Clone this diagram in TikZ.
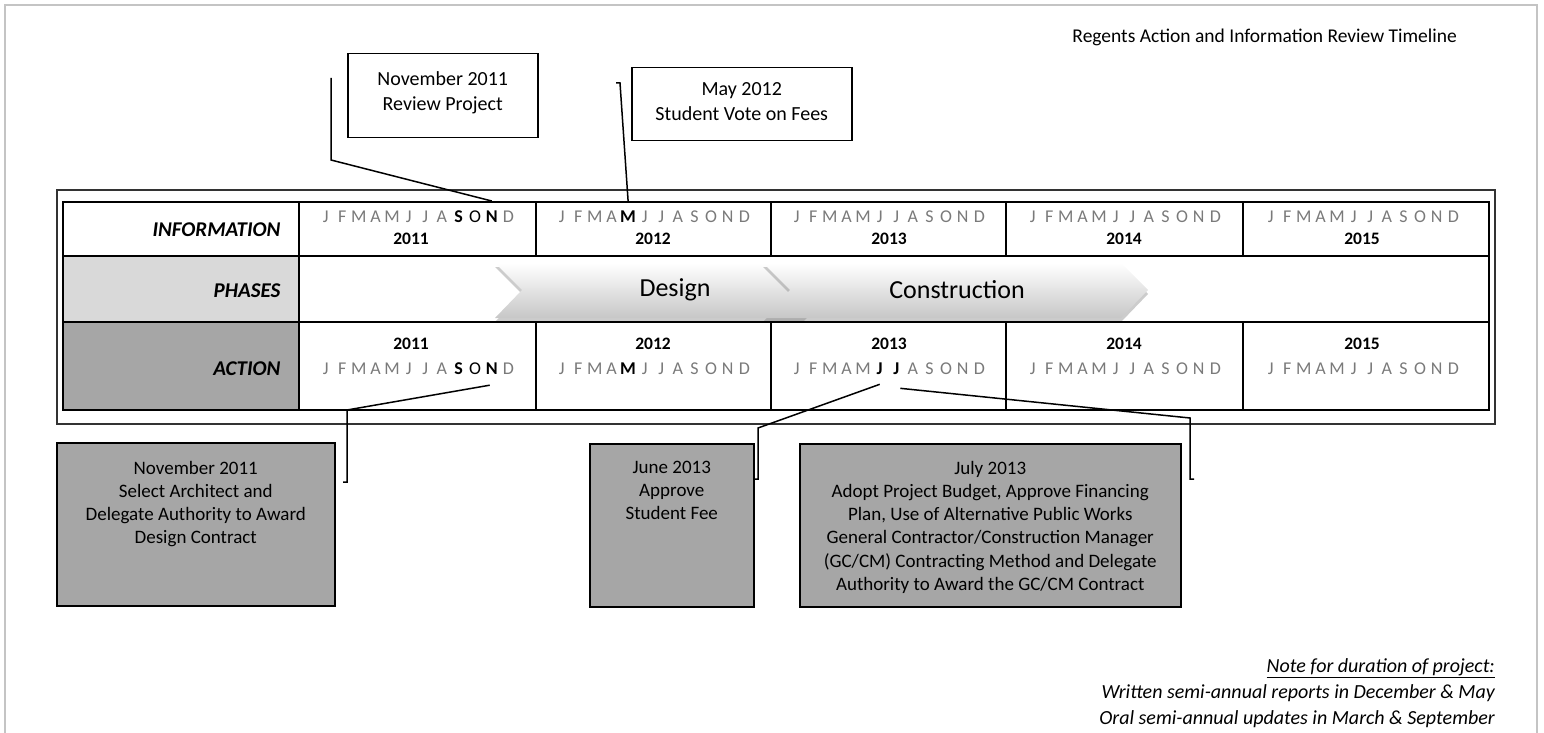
\documentclass[tikz,border=0pt]{standalone}
\usepackage{fontspec}
\setmainfont{Carlito}
\usetikzlibrary{shadows,calc}
\definecolor{monthgray}{HTML}{7A7A7A}
\definecolor{phasegray}{HTML}{D9D9D9}
\definecolor{actgray}{HTML}{A6A6A6}
\definecolor{pageline}{HTML}{C4C4C4}
\tikzset{
 month/.style={font=\fontsize{18}{18}\selectfont, text=monthgray, inner sep=1pt, anchor=base},
 monthb/.style={month, text=black, font=\fontsize{18}{18}\selectfont\bfseries},
 monthk/.style={month, text=black},
 yearlab/.style={font=\fontsize{17.5}{17.5}\selectfont\bfseries, anchor=base},
 rowlab/.style={font=\fontsize{21}{21}\selectfont\bfseries\itshape, anchor=base east},
 tbl/.style={line width=2pt},
 outerframe/.style={line width=1.5pt, draw=black!80},
 conn/.style={line width=1.5pt},
 topbox/.style={draw, line width=1.5pt, fill=white, anchor=north west, inner sep=0pt},
 botbox/.style={topbox, fill=actgray},
 boxtext/.style={font=\fontsize{19}{23.2}\selectfont, align=center, anchor=north, inner sep=0pt},
 topboxtext/.style={font=\fontsize{20}{25}\selectfont, align=center, anchor=north, inner sep=0pt},
 chev/.style={top color=white, bottom color=black!22, drop shadow={shadow xshift=0pt, shadow yshift=-4pt, opacity=0.4}},
 phasetext/.style={font=\fontsize{26}{26}\selectfont},
}
\def\mplain{J/month,F/month,M/month,A/month,M/month,J/month,J/month,A/month,S/month,O/month,N/month,D/month}
\def\mnov{J/month,F/month,M/month,A/month,M/month,J/month,J/month,A/month,S/monthb,O/monthk,N/monthb,D/month}
\def\mmay{J/month,F/month,M/month,A/month,M/monthb,J/month,J/month,A/month,S/month,O/month,N/month,D/month}
\def\mjj{J/month,F/month,M/month,A/month,M/month,J/monthb,J/monthb,A/month,S/month,O/month,N/month,D/month}
% #1 centre of the month row, #2 baseline, #3 name prefix, #4 list
\newcommand\monthrow[4]{\foreach \m/\s [count=\i] in #4 {\node[\s] (#3-\i) at ({#1+(\i-6.5)*16.6},#2) {\m};}}
\begin{document}
\begin{tikzpicture}[x=1pt,y=-1pt]
\useasboundingbox (0,0) rectangle (1544,733);
% page border
\draw[pageline, line width=2pt] (5,733) -- (5,5) -- (1537,5) -- (1537,733);
% title
\node[font=\fontsize{19.5}{19.5}\selectfont, anchor=base east, inner sep=0pt] (title) at (1457,43) {Regents Action and Information Review Timeline};
% outer frame
\draw[outerframe] (57,190) rectangle (1495,424);
% table fills
\fill[phasegray] (63,256) rectangle (299,322);
\fill[actgray] (63,322) rectangle (299,410);
\coordinate (itop) at (0,201);
% chevrons
\path[chev] (495,263) -- (803,263) -- (830,290) -- (803,318) -- (495,318) -- (522,290) -- cycle;
\path[chev] (763,263) -- (1121,263) -- (1148,290) -- (1121,318) -- (763,318) -- (790,290) -- cycle;
\node[phasetext] (design) at (675,290) {Design};
\node[phasetext] (constr) at (957,290) {Construction};
% table grid
\draw[tbl] (63,202) rectangle (1489,410);
\draw[tbl] (63,256) -- (1489,256);
\draw[tbl] (63,322) -- (1489,322);
\draw[tbl] (299,202) -- (299,410);
\foreach \x in {536,771,1006,1243}{\draw[tbl] (\x,202) -- (\x,256); \draw[tbl] (\x,322) -- (\x,410);}
% row labels
\node[rowlab] (linfo) at (284,236) {INFORMATION};
\node[rowlab] (lphase) at (284,297) {PHASES};
\node[rowlab] (lact) at (284,375) {ACTION};
% months and years
\monthrow{417}{222}{i11}{\mnov}
\monthrow{653}{222}{i12}{\mmay}
\monthrow{888}{222}{i13}{\mplain}
\monthrow{1124}{222}{i14}{\mplain}
\monthrow{1362}{222}{i15}{\mplain}
\monthrow{417}{374}{a11}{\mnov}
\monthrow{653}{374}{a12}{\mmay}
\monthrow{888}{374}{a13}{\mjj}
\monthrow{1124}{374}{a14}{\mplain}
\monthrow{1362}{374}{a15}{\mplain}
\foreach \y/\x in {2011/411,2012/653,2013/889,2014/1124,2015/1362}{
 \node[yearlab] (iy\y) at (\x,244) {\y};
 \node[yearlab] (ay\y) at (\x,349) {\y};
}
% top callouts
\node[topbox, minimum width=190, minimum height=84] (b1) at (347,53) {};
\node[topboxtext] (b1t) at ([yshift=-18pt]b1.north) {November 2011\\Review Project};
\node[topbox, minimum width=220, minimum height=73] (b2) at (631,67) {};
\node[topboxtext] (b2t) at ([yshift=-15pt]b2.north) {May 2012\\Student Vote on Fees};
\coordinate (c1a) at (331,78);
\coordinate (c1b) at (331,160);
\draw[conn] (c1a) -- (c1b) -- (i11-11 |- itop);
\coordinate (c2a) at (616,83);
\coordinate (c2b) at (620,83);
\draw[conn] (c2a) -- (c2b) -- (i12-5 |- itop);
% bottom callouts
\node[botbox, minimum width=278, minimum height=163] (b3) at (56,442) {};
\node[boxtext] (b3t) at ([yshift=-19pt]b3.north) {November 2011\\Select Architect and\\Delegate Authority to Award\\Design Contract};
\node[botbox, minimum width=164, minimum height=163] (b4) at (589,443) {};
\node[boxtext] (b4t) at ([yshift=-18pt]b4.north) {June 2013\\Approve\\Student Fee};
\node[botbox, minimum width=381, minimum height=163] (b5) at (799,443) {};
\node[boxtext] (b5t) at ([yshift=-18pt]b5.north) {July 2013\\Adopt Project Budget, Approve Financing\\Plan, Use of Alternative Public Works\\General Contractor/Construction Manager\\(GC/CM) Contracting Method and Delegate\\Authority to Award the GC/CM Contract};
\coordinate (c3b) at (347,410);
\coordinate (c3c) at (347,482);
\coordinate (c3d) at (343,482);
\draw[conn] ([xshift=-2pt,yshift=-10pt]a11-11.south) -- (c3b) -- (c3c) -- (c3d);
\coordinate (c4b) at (758,428);
\coordinate (c4c) at (758,479);
\coordinate (c4d) at (754,479);
\draw[conn] ([yshift=-9pt]a13-6.south) -- (c4b) -- (c4c) -- (c4d);
\coordinate (c5b) at (1190,418);
\coordinate (c5c) at (1190,479);
\coordinate (c5d) at (1194,479);
\draw[conn] ([xshift=4pt,yshift=-13pt]a13-7.south) -- (c5b) -- (c5c) -- (c5d);
% note
\node[font=\fontsize{20}{26}\selectfont\itshape, align=right, anchor=north east, inner sep=0pt] (note) at (1495,658) {\underline{Note for duration of project:}\\Written semi-annual reports in December \& May\\Oral semi-annual updates in March \& September};
\end{tikzpicture}
\end{document}
